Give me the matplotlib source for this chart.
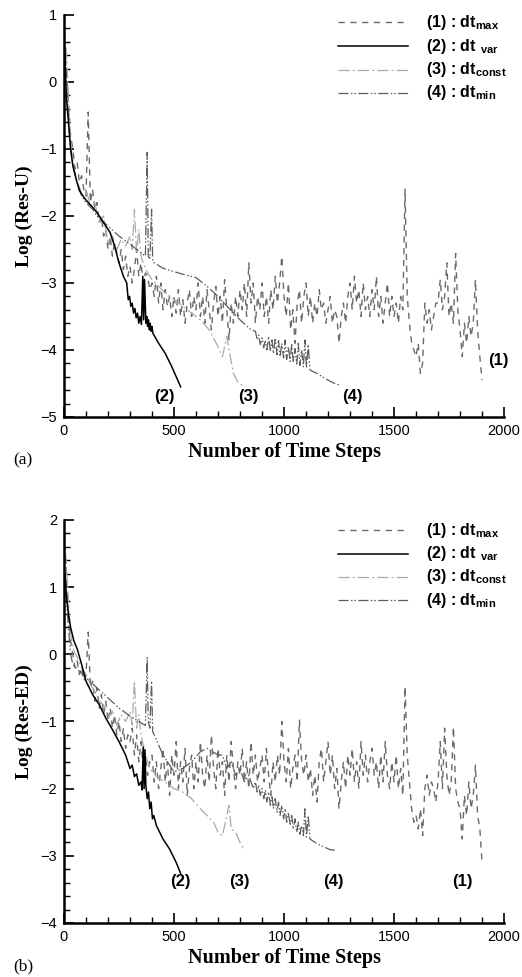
import numpy as np
import matplotlib
matplotlib.use("Agg")
import matplotlib.pyplot as plt
from matplotlib.ticker import MultipleLocator

plt.rcParams['font.family'] = ['Liberation Sans', 'DejaVu Sans']
plt.rcParams['mathtext.fontset'] = 'custom'
plt.rcParams['mathtext.rm'] = 'Liberation Sans:bold'
plt.rcParams['mathtext.bf'] = 'Liberation Sans:bold'

# ---------------- data: panel (a)  Log(Res-U) ----------------
steps_max = np.arange(0, 1901, 10)
res_u_max = [
    0.7, 0.2, -0.3, -0.8, -1.0, -1.3, -1.2, -1.5, -1.4, -1.6,
    -1.7, -0.45, -1.8, -1.6, -1.9, -1.8, -2.1, -2.0, -2.3, -2.2,
    -2.5, -2.3, -2.6, -2.4, -2.55, -2.7, -2.5, -2.8, -2.6, -2.9,
    -2.75, -3.0, -2.8, -2.5, -2.9, -2.7, -3.0, -2.85, -2.9, -3.1,
    -3.0, -3.2, -2.9, -3.3, -3.0, -3.4, -3.1, -3.35, -3.2, -3.5,
    -3.2, -3.45, -3.1, -3.5, -3.25, -3.6, -3.3, -3.1, -3.5, -3.2,
    -3.4, -3.0, -3.5, -3.2, -3.6, -3.1, -3.4, -3.7, -3.3, -3.05,
    -3.5, -3.2, -3.6, -2.95, -3.4, -3.85, -3.3, -3.6, -3.2, -3.5,
    -3.1, -3.4, -3.0, -3.5, -2.7, -3.3, -3.0, -3.6, -3.2, -3.4,
    -3.0, -3.5, -3.2, -3.6, -3.1, -3.4, -2.9, -3.3, -3.0, -2.6,
    -3.2, -3.5, -3.0, -3.7, -3.4, -3.9, -3.3, -3.1, -3.6, -3.2,
    -3.0, -3.5, -3.2, -3.6, -3.3, -3.5, -3.1, -3.4, -3.3, -3.6,
    -3.4, -3.2, -3.6, -3.4, -3.5, -3.9, -3.5, -3.3, -3.6, -3.2,
    -3.0, -3.4, -2.9, -3.3, -3.1, -3.5, -3.0, -3.4, -3.2, -3.5,
    -3.1, -3.4, -2.9, -3.5, -3.2, -3.6, -3.3, -3.0, -3.5, -3.2,
    -3.5, -3.3, -3.6, -3.2, -3.4, -1.6, -3.2, -3.6, -3.9, -4.0,
    -4.1, -3.9, -4.35, -4.2, -3.3, -3.6, -3.4, -3.7, -3.5, -3.3,
    -3.3, -2.95, -3.4, -3.2, -2.7, -3.5, -3.3, -3.6, -2.56, -3.4,
    -3.7, -4.1, -3.6, -3.9, -3.5, -3.8, -3.6, -2.95, -3.7, -4.1, -4.45,
]

steps_var_a = [0, 5, 10, 20, 30, 40, 55, 70, 90, 110, 130, 150, 170, 190, 210,
               230, 250, 270, 285, 292, 298, 304, 310, 316, 322, 328, 334, 340,
               346, 352, 358, 362, 366, 372, 376, 380, 384, 388, 392, 396, 400,
               404, 430, 460, 490, 510, 530]
res_u_var = [0.6, 0.3, -0.2, -0.6, -1.0, -1.25, -1.45, -1.62, -1.72, -1.8,
             -1.87, -1.95, -2.05, -2.15, -2.25, -2.45, -2.7, -2.9, -3.0,
             -3.25, -3.2, -3.35, -3.3, -3.45, -3.38, -3.52, -3.45, -3.6,
             -3.5, -3.62, -2.9, -3.55, -2.95, -3.6, -3.5, -3.65, -3.55, -3.7,
             -3.6, -3.72, -3.65, -3.75, -3.9, -4.05, -4.25, -4.4, -4.55]

steps_const_a = [0, 10, 20, 30, 45, 60, 80, 100, 120, 140, 160, 180, 200, 220,
                 240, 260, 280, 300, 310, 320, 330, 340, 350, 360, 380, 400,
                 430, 460, 500, 540, 580, 620, 660, 700, 720, 740, 750, 770,
                 790, 820]
res_u_const = [0.8, 0.5, -0.2, -0.9, -1.3, -1.5, -1.65, -1.6, -1.85, -1.8,
               -2.1, -2.0, -2.4, -2.3, -2.5, -2.35, -2.45, -2.3, -2.5, -1.9,
               -2.55, -2.2, -2.6, -2.7, -2.85, -2.95, -3.05, -3.15, -3.25,
               -3.35, -3.45, -3.55, -3.7, -3.95, -4.1, -3.8, -4.0, -4.35,
               -4.48, -4.55]

steps_min_a = [0, 10, 20, 30, 45, 60, 80, 100, 130, 150, 200, 250, 300, 350,
               370, 378, 383, 390, 398, 403, 410, 420, 450, 500, 550, 600, 650,
               700, 750, 800, 850,
               870, 878, 885, 892, 900, 908, 915, 922, 930, 938, 945, 952, 960,
               968, 975, 982, 990, 998, 1005, 1012, 1020, 1028, 1035, 1042,
               1050, 1058, 1065, 1072, 1080, 1088, 1095, 1102, 1110, 1118,
               1150, 1200, 1230, 1250]
res_u_min = [0.8, 0.1, -0.5, -1.0, -1.3, -1.5, -1.7, -1.8, -1.9, -2.0, -2.15,
             -2.3, -2.42, -2.55, -2.6, -1.05, -2.6, -2.65, -1.9, -2.65, -2.7,
             -2.72, -2.78, -2.83, -2.88, -2.92, -3.05, -3.2, -3.38, -3.55, -3.7,
             -3.72, -3.85, -3.78, -3.92, -3.82, -3.97, -3.85, -4.0, -3.8, -4.02,
             -3.85, -4.05, -3.82, -4.07, -3.86, -4.1, -3.9, -4.12, -3.85, -4.14,
             -3.95, -4.17, -3.9, -4.19, -3.98, -4.21, -3.9, -4.23, -4.0, -4.25,
             -3.85, -4.27, -3.92, -4.3,
             -4.35, -4.45, -4.5, -4.52]

# ---------------- data: panel (b)  Log(Res-ED) ----------------
res_ed_max = [
    1.8, 1.2, 0.6, 0.2, 0.0, -0.2, -0.1, -0.3, -0.2, -0.4,
    -0.3, 0.33, -0.5, -0.4, -0.7, -0.5, -0.8, -0.6, -0.9, -0.7,
    -1.0, -0.8, -1.1, -0.9, -1.2, -1.0, -1.3, -1.1, -1.4, -1.2,
    -1.3, -1.1, -1.5, -1.2, -1.6, -1.3, -1.7, -1.5, -1.8, -1.6,
    -1.5, -1.9, -1.6, -2.0, -1.7, -1.4, -1.9, -1.6, -2.1, -1.5,
    -1.8, -1.3, -2.0, -1.6, -1.9, -1.4, -2.1, -1.7, -1.5, -2.0,
    -1.6, -1.9, -1.3, -1.8, -2.0, -1.5, -1.9, -1.2, -1.7, -2.0,
    -1.4, -1.8, -1.6, -2.1, -1.5, -1.9, -1.3, -1.7, -2.0, -1.6,
    -1.8, -1.4, -1.9, -1.6, -2.0, -1.3, -1.8, -1.5, -1.9, -1.7,
    -1.5, -1.9, -1.4, -1.8, -2.1, -1.6, -1.9, -1.5, -1.8, -1.0,
    -1.6, -1.9, -1.4, -2.0, -1.7, -1.5, -1.9, -0.98, -1.6, -1.8,
    -1.5, -1.9, -1.7, -2.1, -1.8, -2.2, -1.6, -1.4, -1.9, -1.6,
    -1.3, -1.8, -1.5, -2.0, -1.7, -2.3, -1.9, -1.6, -2.0, -1.5,
    -1.8, -1.4, -1.9, -1.6, -2.0, -1.3, -1.8, -1.5, -1.9, -1.6,
    -1.4, -1.8, -1.6, -2.0, -1.5, -1.9, -1.3, -1.8, -2.0, -1.6,
    -1.9, -1.5, -2.0, -1.7, -2.1, -0.48, -1.5, -1.9, -2.3, -2.5,
    -2.4, -2.6, -2.3, -2.7, -2.0, -1.8, -2.1, -1.9, -2.0, -2.2,
    -1.9, -1.3, -2.0, -1.1, -1.8, -2.1, -1.9, -1.08, -2.0, -2.2,
    -2.3, -2.75, -2.1, -2.4, -1.9, -2.3, -2.1, -1.65, -2.4, -2.6, -3.1,
]

steps_var_b = [0, 5, 10, 20, 30, 45, 60, 80, 100, 130, 160, 190, 220, 250, 280,
               300, 310, 320, 330, 340, 350, 355, 360, 364, 368, 372, 378, 384,
               390, 396, 402, 408, 420, 450, 480, 510, 530]
res_ed_var = [1.0, 1.2, 0.9, 0.6, 0.4, 0.2, 0.08, -0.15, -0.4, -0.6, -0.75,
              -0.95, -1.12, -1.3, -1.5, -1.7, -1.65, -1.82, -1.78, -1.95, -1.9,
              -2.02, -1.38, -2.0, -1.42, -1.95, -2.15, -2.05, -2.3, -2.2, -2.45,
              -2.4, -2.55, -2.75, -2.9, -3.1, -3.26]

steps_const_b = [0, 10, 20, 30, 45, 60, 80, 100, 120, 140, 160, 180, 200, 220,
                 240, 260, 280, 300, 310, 320, 330, 340, 350, 360, 380, 400,
                 430, 460, 500, 540, 580, 620, 650, 680, 700, 720, 740, 750,
                 760, 780, 800, 820]
res_ed_const = [1.8, 1.4, 0.8, 0.3, 0.05, -0.05, -0.2, -0.3, -0.45, -0.55,
                -0.7, -0.75, -0.95, -0.85, -1.05, -0.9, -1.0, -0.85, -1.05,
                -0.4, -1.1, -0.9, -1.2, -1.35, -1.6, -1.75, -1.85, -1.9, -2.0,
                -2.05, -2.15, -2.3, -2.4, -2.5, -2.65, -2.7, -2.4, -2.25, -2.6,
                -2.65, -2.8, -2.92]

steps_min_b = [0, 10, 20, 30, 40, 60, 100, 150, 200, 250, 300, 350, 370, 378,
               383, 390, 398, 403, 410, 450, 500, 540, 580, 620, 650, 700,
               720, 740, 760, 780, 800, 820, 840, 860,
               870, 878, 885, 892, 900, 908, 915, 922, 930, 938, 945, 952, 960,
               968, 975, 982, 990, 998, 1005, 1012, 1020, 1028, 1035, 1042,
               1050, 1058, 1065, 1072, 1080, 1088, 1095, 1102, 1110, 1118,
               1150, 1210, 1240]
res_ed_min = [1.5, 0.9, 0.4, 0.0, -0.15, -0.22, -0.35, -0.5, -0.65, -0.8,
              -0.92, -1.02, -1.06, -0.05, -1.0, -1.1, -0.4, -1.15, -1.2, -1.5,
              -1.75, -1.7, -1.6, -1.45, -1.4, -1.5,
              -1.5, -1.7, -1.6, -1.8, -1.7, -1.9, -1.8, -2.0,
              -1.9, -2.05, -1.95, -2.1, -2.0, -2.15, -2.02, -2.2, -2.05, -2.25,
              -2.1, -2.3, -2.15, -2.35, -2.2, -2.4, -2.25, -2.45, -2.3, -2.5,
              -2.35, -2.55, -2.4, -2.6, -2.45, -2.65, -2.5, -2.68, -2.55, -2.7,
              -2.3, -2.72, -2.4, -2.75,
              -2.82, -2.91, -2.92]

labels = [r"(1) : dt$_{\mathbf{max}}$", r"(2) : dt$\ _{\mathbf{var}}$",
          r"(3) : dt$_{\mathbf{const}}$", r"(4) : dt$_{\mathbf{min}}$"]

styles = [
    dict(color='#6a6a6a', lw=1.0, dashes=(4.5, 4)),
    dict(color='black', lw=1.1, linestyle='-'),
    dict(color='#a9a9a9', lw=0.9, dashes=(9, 2.5, 1.5, 2.5)),
    dict(color='#5c5c5c', lw=0.9, dashes=(8, 2, 1.2, 1.5, 1.2, 2)),
]

fig = plt.figure(figsize=(5.22, 9.77), dpi=100)
ax_a = fig.add_axes([0.1226, 0.5732, 0.843, 0.4115])
ax_b = fig.add_axes([0.1226, 0.0553, 0.843, 0.4125])


def style_axes(ax, ylim, ylabel, tag):
    ax.set_xlim(0, 2000)
    ax.set_ylim(*ylim)
    for s in ['top', 'right']:
        ax.spines[s].set_visible(False)
    for s in ['left', 'bottom']:
        ax.spines[s].set_linewidth(1.8)
    ax.xaxis.set_major_locator(MultipleLocator(500))
    ax.xaxis.set_minor_locator(MultipleLocator(100))
    ax.yaxis.set_major_locator(MultipleLocator(1))
    ax.yaxis.set_minor_locator(MultipleLocator(0.2))
    ax.tick_params(which='both', direction='in', top=False, right=False,
                   labelsize=10.5)
    ax.tick_params(which='major', length=7, width=1.2)
    ax.tick_params(which='minor', length=4, width=1.0)
    ax.tick_params(axis='x', pad=5)
    ax.tick_params(axis='y', pad=5)
    ax.set_xlabel('Number of Time Steps', family='Liberation Serif',
                  fontweight='bold', fontsize=14.5, labelpad=3)
    ax.set_ylabel(ylabel, family='Liberation Serif', fontweight='bold',
                  fontsize=14, labelpad=5)
    ax.text(-0.115, -0.108, tag, transform=ax.transAxes,
            family='Liberation Serif', fontsize=12.5, ha='left', va='center')


def legend(ax, rows):
    for st, lab, yy in zip(styles, labels, rows):
        ax.plot([0.623, 0.782], [yy, yy], transform=ax.transAxes,
                clip_on=False, **st)
        ax.text(0.823, yy, lab, transform=ax.transAxes, fontsize=11.5,
                fontweight='bold', ha='left', va='center')


# panel (a)
ax_a.plot(steps_max, res_u_max, **styles[0])
ax_a.plot(steps_const_a, res_u_const, **styles[2])
ax_a.plot(steps_min_a, res_u_min, **styles[3])
ax_a.plot(steps_var_a, res_u_var, **styles[1])
style_axes(ax_a, (-5, 1), 'Log (Res-U)', '(a)')
legend(ax_a, [0.982, 0.922, 0.864, 0.806])
for txt, x, y in [('(2)', 455, -4.69), ('(3)', 840, -4.69),
                  ('(4)', 1309, -4.69), ('(1)', 1973, -4.16)]:
    ax_a.text(x, y, txt, fontsize=12, fontweight='bold',
              ha='center', va='center')

# panel (b)
ax_b.plot(steps_max, res_ed_max, **styles[0])
ax_b.plot(steps_const_b, res_ed_const, **styles[2])
ax_b.plot(steps_min_b, res_ed_min, **styles[3])
ax_b.plot(steps_var_b, res_ed_var, **styles[1])
style_axes(ax_b, (-4, 2), 'Log (Res-ED)', '(b)')
legend(ax_b, [0.975, 0.916, 0.859, 0.801])
for txt, x, y in [('(2)', 527, -3.39), ('(3)', 795, -3.39),
                  ('(4)', 1223, -3.39), ('(1)', 1809, -3.39)]:
    ax_b.text(x, y, txt, fontsize=12, fontweight='bold',
              ha='center', va='center')

fig.savefig('out.png', dpi=100)
